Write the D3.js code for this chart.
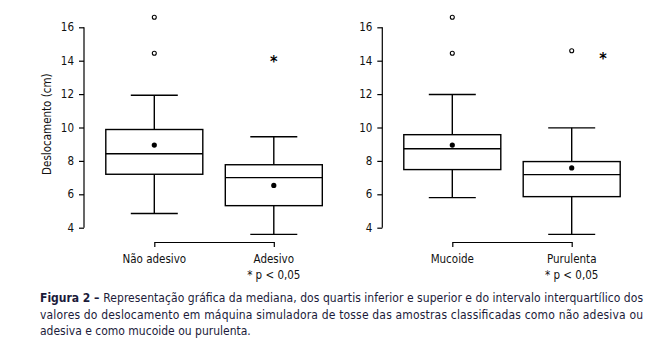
<!DOCTYPE html>
<html>
<head>
<meta charset="utf-8">
<script src="https://cdn.jsdelivr.net/npm/d3@7"></script>
<style>
  body { margin: 0; background: #fff; }
  svg text { font-family: "Liberation Sans Narrow", "DejaVu Sans Condensed", "Arial Narrow", sans-serif; }
</style>
</head>
<body>
<div id="chart"></div>
<script>
// panel 1: adesividade, panel 2: aspecto
var groups1 = ["Não adesivo", "Adesivo"];
var groups2 = ["Mucoide", "Purulenta"];
var yTicks = [4, 6, 8, 10, 12, 14, 16];

// [whisker low, Q1, median, Q3, whisker high]
var stats1 = [[4.85, 7.2, 8.43, 9.88, 11.93], [3.6, 5.32, 7.0, 7.77, 9.45]];
var stats2 = [[5.8, 7.48, 8.73, 9.57, 11.98], [3.6, 5.86, 7.18, 7.96, 9.98]];
var means1 = [8.95, 6.53];
var means2 = [8.95, 7.58];
var outliers1 = [[16.6, 14.45], []];
var outliers2 = [[16.6, 14.45], [14.6]];
var stars1 = [null, 14.1];
var stars2 = [null, 14.25];

var width = 666, height = 353;

var svg = d3.select("#chart")
	.append("svg")
		.attr("width", width)
		.attr("height", height);

var y = d3.scaleLinear().domain([4, 16]).range([227.7, 27.3]);

function panel(axisX, x1, x2, groups, stats, means, outliers, stars, starDx, yLabel) {
	var x = d3.scalePoint().domain(groups).range([x1, x2]);
	var g = svg.append("g");
	var boxW = 97, capW = 47;

	// y axis
	var ya = g.append("g")
		.attr("transform", "translate(" + axisX + ",0)")
		.call(d3.axisLeft(y).tickValues(yTicks).tickSize(5).tickPadding(5).tickSizeOuter(0));
	ya.select(".domain").attr("d", "M0," + y(4) + "V" + y(16));
	ya.selectAll("text").attr("font-size", 11.5).attr("fill", "#111");
	ya.selectAll("line, path").attr("stroke", "#000").attr("stroke-width", 1.2);

	// x axis (bracket)
	var xa = g.append("g")
		.attr("transform", "translate(0,242)")
		.call(d3.axisBottom(x).tickSize(5).tickSizeOuter(0).tickFormat(""));
	xa.selectAll("line, path").attr("stroke", "#000").attr("stroke-width", 1.2);

	g.selectAll(".lab")
		.data(groups)
		.enter()
		.append("text")
		.attr("x", function(d) { return x(d); })
		.attr("y", 263)
		.attr("text-anchor", "middle")
		.attr("font-size", 11.5)
		.attr("fill", "#111")
		.text(function(d) { return d; });

	g.append("text")
		.attr("x", x(groups[1]))
		.attr("y", 279)
		.attr("text-anchor", "middle")
		.attr("font-size", 11.5)
		.attr("fill", "#111")
		.text("* p < 0,05");

	var b = g.selectAll(".box")
		.data(groups)
		.enter()
		.append("g")
		.attr("stroke", "#000")
		.attr("stroke-width", 1.4)
		.attr("fill", "none");

	// whiskers
	b.append("line")
		.attr("x1", function(d) { return x(d); })
		.attr("x2", function(d) { return x(d); })
		.attr("y1", function(d, i) { return y(stats[i][0]); })
		.attr("y2", function(d, i) { return y(stats[i][1]); });
	b.append("line")
		.attr("x1", function(d) { return x(d); })
		.attr("x2", function(d) { return x(d); })
		.attr("y1", function(d, i) { return y(stats[i][3]); })
		.attr("y2", function(d, i) { return y(stats[i][4]); });
	[0, 4].forEach(function(k) {
		b.append("line")
			.attr("x1", function(d) { return x(d) - capW / 2; })
			.attr("x2", function(d) { return x(d) + capW / 2; })
			.attr("y1", function(d, i) { return y(stats[i][k]); })
			.attr("y2", function(d, i) { return y(stats[i][k]); });
	});
	// box
	b.append("rect")
		.attr("x", function(d) { return x(d) - boxW / 2; })
		.attr("width", boxW)
		.attr("y", function(d, i) { return y(stats[i][3]); })
		.attr("height", function(d, i) { return y(stats[i][1]) - y(stats[i][3]); });
	// median
	b.append("line")
		.attr("x1", function(d) { return x(d) - boxW / 2; })
		.attr("x2", function(d) { return x(d) + boxW / 2; })
		.attr("y1", function(d, i) { return y(stats[i][2]); })
		.attr("y2", function(d, i) { return y(stats[i][2]); });
	// mean
	b.append("circle")
		.attr("cx", function(d) { return x(d); })
		.attr("cy", function(d, i) { return y(means[i]); })
		.attr("r", 2.6)
		.attr("fill", "#000")
		.attr("stroke", "none");

	// outliers
	groups.forEach(function(gr, i) {
		g.selectAll(null)
			.data(outliers[i])
			.enter()
			.append("circle")
			.attr("cx", x(gr))
			.attr("cy", function(d) { return y(d); })
			.attr("r", 2)
			.attr("fill", "none")
			.attr("stroke", "#000")
			.attr("stroke-width", 1.1);
		if (stars[i] != null) {
			g.append("text")
				.attr("x", x(gr) + starDx)
				.attr("y", y(stars[i]) + 7.5)
				.attr("text-anchor", "middle")
				.attr("font-size", 16)
				.attr("font-weight", "bold")
				.attr("fill", "#000")
				.text("*");
		}
	});

	if (yLabel) {
		g.append("text")
			.attr("transform", "translate(51," + y(10.2) + ") rotate(-90)")
			.attr("text-anchor", "middle")
			.attr("font-size", 11.5)
			.attr("fill", "#111")
			.text(yLabel);
	}
}

panel(84, 154.3, 273.8, groups1, stats1, means1, outliers1, stars1, 0, "Deslocamento (cm)");
panel(382.3, 452.3, 571.7, groups2, stats2, means2, outliers2, stars2, 31.3, null);

// caption
var capLines = [
	"Representação gráfica da mediana, dos quartis inferior e superior e do intervalo interquartílico dos",
	"valores do deslocamento em máquina simuladora de tosse das amostras classificadas como não adesiva ou",
	"adesiva e como mucoide ou purulenta."
];
var cap = svg.append("g").attr("fill", "#1b1b3a").attr("font-size", 12);
var t0 = cap.append("text").attr("x", 40).attr("y", 302)
	.attr("font-weight", "bold").text("Figura 2 –\u00a0");
var first = cap.append("text").attr("y", 302).text(capLines[0]);
// place first line after bold label and justify to right edge
var labW = t0.node().getComputedTextLength();
first.attr("x", 40 + labW).attr("textLength", 643 - 40 - labW).attr("lengthAdjust", "spacing");
cap.append("text").attr("x", 40).attr("y", 318.5).text(capLines[1])
	.attr("textLength", 603).attr("lengthAdjust", "spacing");
cap.append("text").attr("x", 40).attr("y", 335).text(capLines[2]);
</script>
</body>
</html>
